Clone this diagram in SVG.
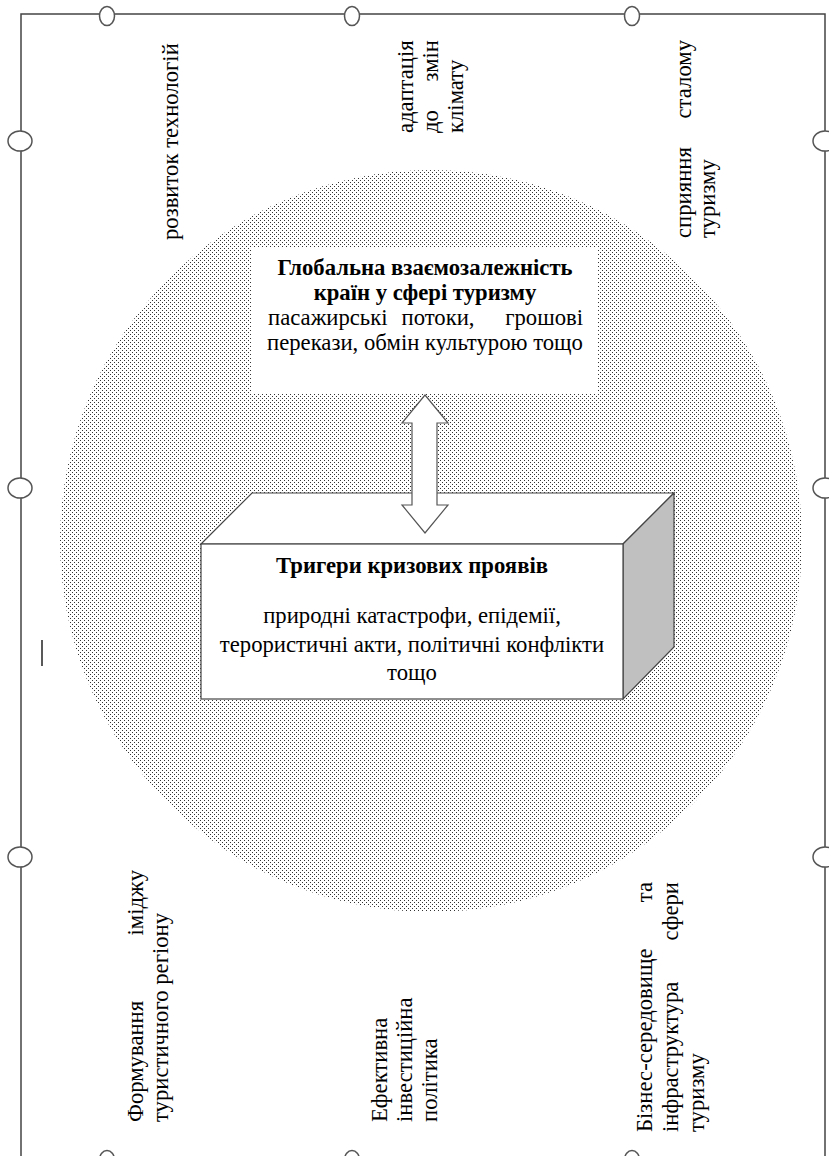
<svg xmlns="http://www.w3.org/2000/svg" width="829" height="1156" viewBox="0 0 829 1156">
<defs>
<pattern id="dots" x="0" y="0" width="4" height="4" patternUnits="userSpaceOnUse">
<rect x="0" y="0" width="1" height="1" fill="#333"/>
<rect x="2" y="2" width="1" height="1" fill="#333"/>
</pattern>
</defs>
<style>
text{font-family:"Liberation Serif","Times New Roman",serif;font-size:22.7px;fill:#000}
.b{font-weight:bold}
.m{text-anchor:middle}
.e{text-anchor:end}
.frame{stroke:#444;stroke-width:1.5;fill:none}
.hnd{fill:#fff;stroke:#555;stroke-width:1.5}
</style>
<rect width="829" height="1156" fill="#fff"/>
<g id="frame">
<polyline class="frame" points="21,1156 21,14 825,14 825,1156"/>
<line x1="42" y1="640" x2="42" y2="666" stroke="#222" stroke-width="1.5"/>
<ellipse class="hnd" cx="107" cy="16" rx="7.5" ry="9.5"/>
<ellipse class="hnd" cx="352" cy="16" rx="7.5" ry="9.5"/>
<ellipse class="hnd" cx="632" cy="16" rx="7.5" ry="9.5"/>
<ellipse class="hnd" cx="20" cy="141" rx="12" ry="10"/>
<ellipse class="hnd" cx="20" cy="488" rx="12" ry="10"/>
<ellipse class="hnd" cx="20" cy="857" rx="12" ry="10"/>
<ellipse class="hnd" cx="825" cy="141" rx="12" ry="10"/>
<ellipse class="hnd" cx="825" cy="488" rx="12" ry="10"/>
<ellipse class="hnd" cx="825" cy="857" rx="12" ry="10"/>
<ellipse class="hnd" cx="107" cy="1160" rx="7.5" ry="9.5"/>
<ellipse class="hnd" cx="352" cy="1160" rx="7.5" ry="9.5"/>
<ellipse class="hnd" cx="632" cy="1160" rx="7.5" ry="9.5"/>
</g>
<g id="circle">
<circle cx="431" cy="541" r="371" fill="url(#dots)"/>
</g>
<g id="global">
<rect x="252" y="248" width="346" height="145" fill="#fff"/>
<text class="b m" x="425" y="275">Глобальна взаємозалежність</text>
<text class="b m" x="425" y="300">країн у сфері туризму</text>
<text x="268" y="325">пасажирські</text>
<text class="m" x="438" y="325">потоки,</text>
<text class="e" x="583" y="325">грошові</text>
<text class="m" x="425" y="350">перекази, обмін культурою тощо</text>
</g>
<g id="triggers">
<polygon points="201,544 252,493 674,493 623,544" fill="#fff" stroke="#444" stroke-width="1.2"/>
<polygon points="623,544 674,493 674,647 623,699" fill="#c0c0c0" stroke="#444" stroke-width="1.2"/>
<rect x="201" y="544" width="422" height="155" fill="#fff" stroke="#444" stroke-width="1.2"/>
<text class="b m" x="412" y="573">Тригери кризових проявів</text>
<text class="m" x="412" y="623">природні катастрофи, епідемії,</text>
<text class="m" x="412" y="652">терористичні акти, політичні конфлікти</text>
<text class="m" x="412" y="680">тощо</text>
</g>
<g id="connectors">
<polygon points="425,395 448,423 437,423 437,505 448,505 425,533 402,505 412,505 412,423 402,423" fill="#fff" stroke="#555" stroke-width="1.2"/>
</g>
<g id="tech" transform="translate(153,240) rotate(-90)">
<text x="0" y="25">розвиток технологій</text>
</g>
<g id="climate" transform="translate(388,133) rotate(-90)">
<text x="0" y="25">адаптація</text>
<text x="0" y="50">до</text>
<text class="e" x="93" y="50">змін</text>
<text x="0" y="75">клімату</text>
</g>
<g id="sustain" transform="translate(666,238) rotate(-90)">
<text x="0" y="25">сприяння</text>
<text class="e" x="198" y="25">сталому</text>
<text x="0" y="49">туризму</text>
</g>
<g id="image" transform="translate(118,1122) rotate(-90)">
<text x="0" y="25">Формування</text>
<text class="e" x="252" y="25">іміджу</text>
<text x="0" y="50">туристичного регіону</text>
</g>
<g id="invest" transform="translate(362,1122) rotate(-90)">
<text x="0" y="25">Ефективна</text>
<text x="0" y="50">інвестиційна</text>
<text x="0" y="75">політика</text>
</g>
<g id="business" transform="translate(627,1132) rotate(-90)">
<text x="0" y="25">Бізнес-середовище</text>
<text class="e" x="250" y="25">та</text>
<text x="0" y="51">інфраструктура</text>
<text class="e" x="250" y="51">сфери</text>
<text x="0" y="77">туризму</text>
</g>
</svg>
